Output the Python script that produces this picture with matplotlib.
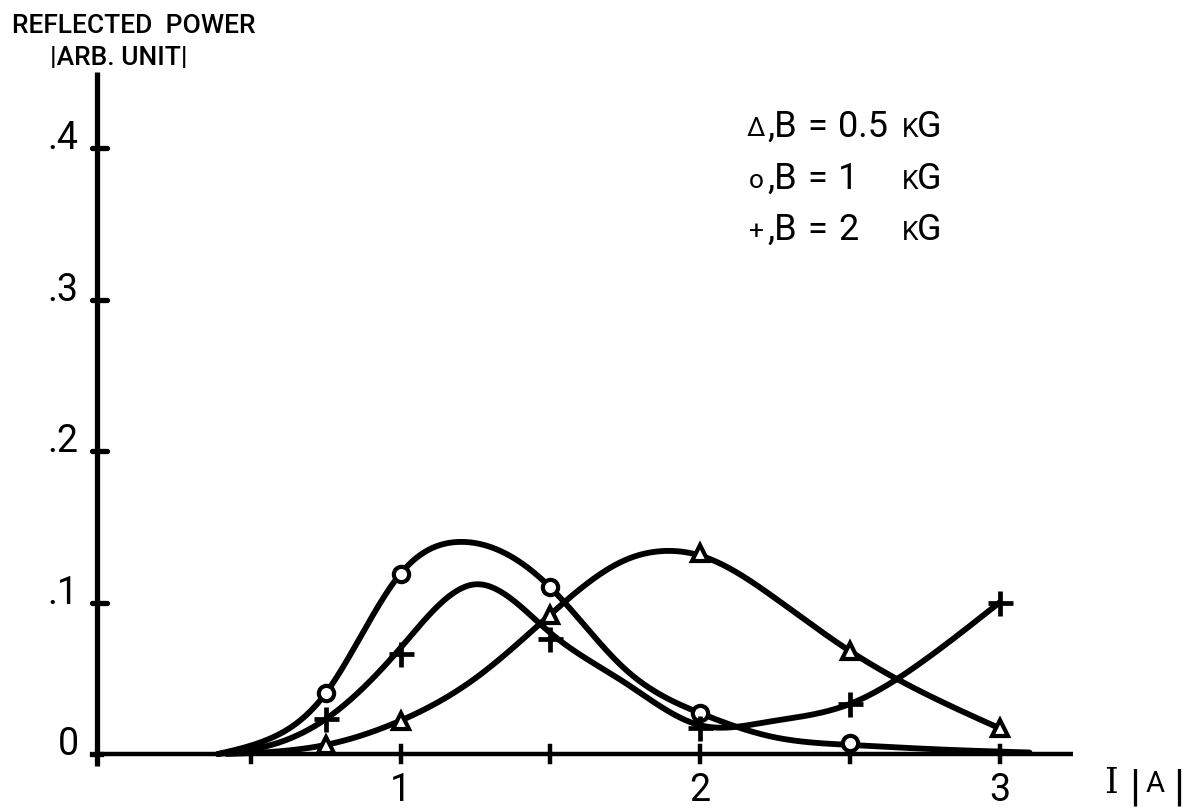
import numpy as np
import matplotlib
matplotlib.use('Agg')
import matplotlib.pyplot as plt

FONT = ['Roboto', 'DejaVu Sans']
plt.rcParams['font.family'] = FONT

# ---- measured points (I in A, reflected power in arb. unit) ----
current = [0.75, 1.0, 1.5, 2.0, 2.5, 3.0]
power_b05 = [0.006, 0.022, 0.092, 0.133, 0.068, 0.017]
current_b1 = [0.75, 1.0, 1.5, 2.0, 2.5]
power_b1 = [0.040, 0.119, 0.110, 0.027, 0.007]
power_b2 = [0.023, 0.066, 0.076, 0.017, 0.033, 0.100]

# ---- hand-drawn curves ----
curve_b05_x = [0.42, 0.75, 1.0, 1.25, 1.5, 1.75, 1.88, 2.0, 2.25, 2.5, 2.75, 3.0]
curve_b05_y = [0.0, 0.006, 0.022, 0.050, 0.092, 0.128, 0.134, 0.131, 0.103, 0.068, 0.040, 0.017]
curve_b1_x = [0.39, 0.55, 0.75, 1.0, 1.2, 1.5, 1.75, 2.0, 2.25, 2.5, 2.8, 3.1]
curve_b1_y = [0.0, 0.009, 0.040, 0.119, 0.140, 0.110, 0.056, 0.027, 0.011, 0.006, 0.003, 0.001]
curve_b2_x = [0.39, 0.55, 0.75, 1.0, 1.25, 1.5, 1.75, 2.0, 2.22, 2.5, 2.75, 3.0]
curve_b2_y = [0.0, 0.005, 0.023, 0.070, 0.112, 0.080, 0.047, 0.019, 0.021, 0.033, 0.062, 0.100]

y_ticks = [0.1, 0.2, 0.3, 0.4]
y_tick_labels = ['.1', '.2', '.3', '.4']
x_ticks = [0.5, 1.0, 1.5, 2.0, 2.5, 3.0]
x_tick_labels = {1.0: '1', 2.0: '2', 3.0: '3'}
legend_rows = [('\u0394', '0.5'), ('o', '1'), ('+', '2')]


def natural_spline(xs, ys, n=60):
    xs = np.asarray(xs, float)
    ys = np.asarray(ys, float)
    N = len(xs)
    h = np.diff(xs)
    A = np.zeros((N, N))
    r = np.zeros(N)
    A[0, 0] = A[-1, -1] = 1.0
    for i in range(1, N - 1):
        A[i, i - 1] = h[i - 1]
        A[i, i] = 2 * (h[i - 1] + h[i])
        A[i, i + 1] = h[i]
        r[i] = 6 * ((ys[i + 1] - ys[i]) / h[i] - (ys[i] - ys[i - 1]) / h[i - 1])
    M = np.linalg.solve(A, r)
    ox, oy = [], []
    for i in range(N - 1):
        t = np.linspace(xs[i], xs[i + 1], n, endpoint=False)
        a = xs[i + 1] - t
        b = t - xs[i]
        y = (M[i] * a**3 + M[i + 1] * b**3) / (6 * h[i]) \
            + (ys[i] / h[i] - M[i] * h[i] / 6) * a \
            + (ys[i + 1] / h[i] - M[i + 1] * h[i] / 6) * b
        ox.append(t)
        oy.append(y)
    ox.append([xs[-1]])
    oy.append([ys[-1]])
    return np.concatenate(ox), np.maximum(np.concatenate(oy), 0.0)


# pixel -> data helpers for text layout only
def px(xp):
    return (xp - 101) / 299.5


def py(yp):
    return (754 - yp) / 1515


fig = plt.figure(figsize=(11.9, 8.1), dpi=100)
ax = fig.add_axes([0, 0, 1, 1])
ax.set_xlim(px(0), px(1190))
ax.set_ylim(py(810), py(0))
ax.axis('off')

K = 'black'
LW = 4.2

# axes
ax.plot([-0.01, 3.245], [0, 0], color=K, lw=3.2, solid_capstyle='butt')
ax.plot([-0.012, -0.012], [-0.008, 0.450], color=K, lw=3.8, solid_capstyle='butt')
for v in y_ticks:
    ax.plot([-0.03, 0.02], [v, v], color=K, lw=3.8, solid_capstyle='round')
ax.plot([-0.03, 0.0], [0, 0], color=K, lw=3.8)
for v in x_ticks:
    ax.plot([v, v], [-0.005, 0.005], color=K, lw=3.2)

# curves
for cx, cy in [(curve_b05_x, curve_b05_y), (curve_b1_x, curve_b1_y), (curve_b2_x, curve_b2_y)]:
    sx, sy = natural_spline(cx, cy)
    ax.plot(sx, sy, color=K, lw=LW, solid_capstyle='round', solid_joinstyle='round', zorder=2)

# markers
ax.plot(current, power_b05, linestyle='none', marker='^', ms=12, mfc='white', mec=K, mew=3.0, zorder=3)
ax.plot(current_b1, power_b1, linestyle='none', marker='o', ms=11, mfc='white', mec=K, mew=3.0, zorder=3)
ax.plot(current, power_b2, linestyle='none', marker='+', ms=18, mec=K, mew=3.4, zorder=3)

# tick labels
for v, lab in zip(y_ticks, y_tick_labels):
    ax.text(-0.075, v + 0.006, lab, ha='right', va='center', fontsize=27)
ax.text(-0.075, 0.006, '0', ha='right', va='center', fontsize=27)
for v, lab in x_tick_labels.items():
    ax.text(v, py(801), lab, ha='center', va='baseline', fontsize=27)

# axis titles
ax.text(px(12), py(33), 'REFLECTED  POWER', ha='left', va='baseline', fontsize=19, fontweight='medium')
ax.text(px(50), py(65), '|ARB. UNIT|', ha='left', va='baseline', fontsize=19, fontweight='medium')
ax.text(px(1104), py(793), 'I', ha='left', va='baseline', fontsize=25, family='DejaVu Serif')
ax.text(px(1129), py(800), '|', ha='left', va='baseline', fontsize=32)
ax.text(px(1146), py(792), 'A', ha='left', va='baseline', fontsize=21)
ax.text(px(1173), py(800), '|', ha='left', va='baseline', fontsize=32)

# legend
baselines = [137, 189, 240]
for (sym, val), b in zip(legend_rows, baselines):
    ax.text(px(756), py(b - 1), sym, ha='center', va='baseline', fontsize=19)
    ax.text(px(768), py(b), ',B', ha='left', va='baseline', fontsize=26)
    ax.text(px(807), py(b), '=', ha='left', va='baseline', fontsize=26)
    ax.text(px(838), py(b), val, ha='left', va='baseline', fontsize=26)
    ax.text(px(902), py(b), 'K', ha='left', va='baseline', fontsize=19)
    ax.text(px(917), py(b), 'G', ha='left', va='baseline', fontsize=26)

fig.savefig('out.png', dpi=100)
